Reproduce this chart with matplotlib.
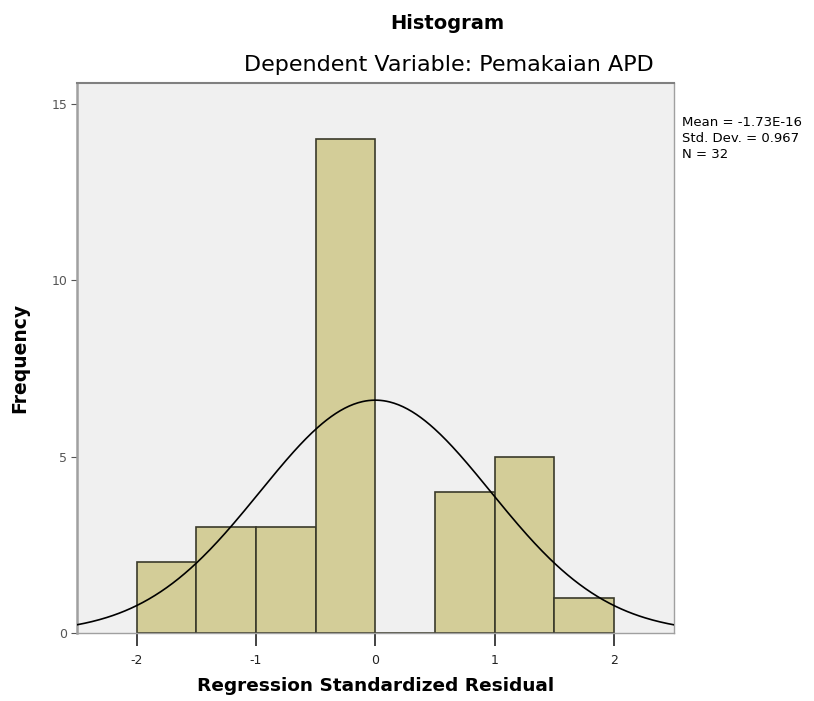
import numpy as np
import matplotlib.pyplot as plt

plt.rcParams['axes.unicode_minus'] = False

# bins of the standardized residuals and their counts
bin_edges = [-2.0, -1.5, -1.0, -0.5, 0.0, 0.5, 1.0, 1.5, 2.0]
counts = [2, 3, 3, 14, 0, 4, 5, 1]
mean_res = -1.73e-16
std_res = 0.967
n_obs = 32

fig = plt.figure(figsize=(8.14, 7.01), dpi=100)
ax = fig.add_axes([0.0946, 0.097, 0.733, 0.785])
ax.set_facecolor('#f0f0f0')

lefts = np.array(bin_edges[:-1])
widths = np.diff(bin_edges)
ax.bar(lefts, counts, width=widths, align='edge', color='#d3cd98',
       edgecolor='#3a3a2a', linewidth=1.2, zorder=2)

# normal curve scaled to the histogram
xs = np.linspace(-2.5, 2.5, 400)
bw = widths[0]
ys = n_obs * bw / (std_res * np.sqrt(2 * np.pi)) * np.exp(-0.5 * ((xs - mean_res) / std_res) ** 2)
ax.plot(xs, ys, color='black', linewidth=1.2, zorder=3)

ax.set_xlim(-2.5, 2.5)
ax.set_ylim(0, 15.6)
ax.set_xticks([-2, -1, 0, 1, 2])
ax.set_yticks([0, 5, 10, 15])
ax.tick_params(axis='x', direction='out', labelsize=9, colors='#222222', length=9, width=1.2, pad=6)
ax.tick_params(axis='y', direction='out', labelsize=9, colors='#555555', length=4, pad=3)
for s in ax.spines.values():
    s.set_color('#a0a0a0')
    s.set_linewidth(1.0)
ax.spines['left'].set_linewidth(1.8)
ax.spines['top'].set_color('#808080')
ax.spines['top'].set_linewidth(1.5)

ax.set_xlabel('Regression Standardized Residual', fontsize=13.3, fontweight='bold', labelpad=7)
ax.set_ylabel('Frequency', fontsize=13.5, fontweight='bold', labelpad=16)

fig.text(0.549, 0.966, 'Histogram', ha='center', va='center', fontsize=14, fontweight='bold')
fig.text(0.551, 0.907, 'Dependent Variable: Pemakaian APD', ha='center', va='center', fontsize=16)
fig.text(0.838, 0.834, 'Mean = -1.73E-16\nStd. Dev. = 0.967\nN = 32', ha='left', va='top',
         fontsize=9.5, linespacing=1.3)

fig.savefig('out.png', dpi=100)
